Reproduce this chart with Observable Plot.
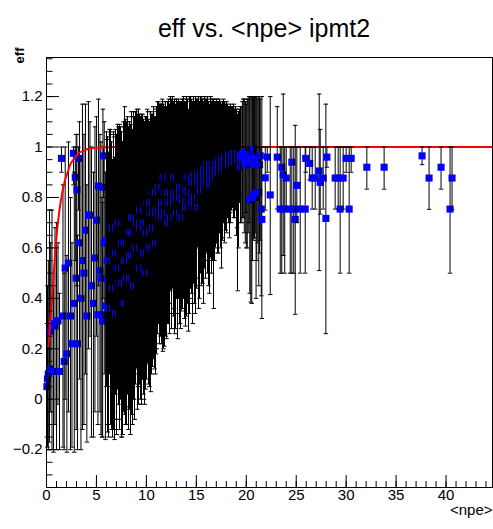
<!DOCTYPE html>
<html><head><meta charset="utf-8">
<script src="https://cdn.jsdelivr.net/npm/d3@7"></script>
<script src="https://cdn.jsdelivr.net/npm/@observablehq/plot@0.6"></script>
<style>body{margin:0;background:#fff} svg{display:block}</style>
</head><body><div id="chart"></div>
<script>
const titleText = "eff vs. <npe> ipmt2";
const xTitle = "<npe>";
const yTitle = "eff";

// first set of points
const npe = [
  0.04,0.10,0.18,0.30,0.42,0.55,0.70,0.85,1.00,1.15,
  1.30,1.50,1.65,1.77,1.87,2.04,2.20,2.40,2.55,2.70,
  2.78,2.88,2.97,3.04,3.10,3.20,3.30,3.45,3.60,3.75,
  3.90,4.04,4.20,4.35,4.50,4.70,4.85,5.00,5.15,5.20,
  5.35,5.45,5.55,5.62,5.70,5.65,5.78,5.90,6.00,
  6.15,6.30,6.45,6.60,6.75,6.90,7.05,7.20,7.35,7.50,
  7.55,7.70,7.85,7.95,8.05,8.20,8.40,8.55,8.70,8.85,
  9.05,9.15,9.25,9.40,9.55,9.70,9.85,10.00,10.15,10.30,
  10.45,10.60,10.75,10.90,
  11.05,11.20,11.35,11.50,11.65,11.80,11.95,12.10,12.25,12.40,
  12.55,12.70,12.85,13.00,13.15,13.30,13.45,13.60,13.75,13.90,
  14.05,14.20,14.35,14.50,14.65,14.80,14.95,
  15.10,15.25,15.40,15.55,15.70,15.85,16.00,16.15,16.30,16.45,
  16.60,16.75,16.90,17.05,17.20,17.35,17.50,17.65,17.80,17.95,
  18.10,18.25,18.40,18.55,18.70,18.85,19.00,19.15,19.30,
  19.55,19.70,19.90,20.00,20.20,20.35,20.45,20.55,20.70,20.75,
  20.90,21.05,21.40,21.50,21.56,
  21.9,22.1,22.4,23.1,23.4,23.55,23.7,23.85,24.0,24.4,
  24.56,24.9,24.75,25.06,25.4,25.9,25.95,26.35,26.6,26.9,
  27.3,27.4,27.7,27.97,28.07,28.9,29.2,29.4,29.7,30.0,
  30.3,30.5,32.07,33.8,37.6,38.3,39.5,40.4,40.6
];
const eff = [
  0.05,0.08,0.10,0.12,0.27,0.30,0.11,0.29,0.31,0.31,
  0.11,0.955,0.33,0.15,0.52,0.18,0.54,0.33,0.22,0.975,
  0.38,0.88,0.48,0.83,0.22,0.955,0.62,0.40,0.55,0.50,
  0.67,0.33,0.73,0.73,0.45,0.38,0.56,0.71,0.335,0.845,
  0.51,0.48,0.335,0.31,0.965,0.84,0.62,0.37,0.63,
  0.47,0.72,0.49,0.31,0.40,0.65,0.45,0.585,0.53,0.415,
  0.335,0.62,0.68,0.59,0.50,0.44,0.38,0.575,0.66,0.50,
  0.82,0.62,0.535,0.64,0.775,0.625,0.55,0.72,0.825,0.64,
  0.55,0.72,0.77,0.68,
  0.80,0.905,0.86,0.80,0.77,0.69,0.66,0.735,0.815,0.86,
  0.77,0.835,0.77,0.86,0.76,0.825,0.78,0.86,0.905,0.80,
  0.835,0.69,0.85,0.86,0.74,0.835,0.875,
  0.94,0.80,0.905,0.875,0.84,0.905,0.92,0.89,0.86,0.93,
  0.92,0.78,0.925,0.935,0.93,0.945,0.89,0.945,0.96,0.955,
  0.965,0.96,0.97,0.97,0.98,0.95,0.935,0.81,0.97,
  0.965,0.975,0.93,0.93,0.96,0.79,0.95,0.80,0.99,0.81,
  0.93,0.82,0.965,0.754,0.713,
  0.878,0.96,0.81,0.96,0.754,0.92,0.89,0.754,0.877,0.754,
  0.94,0.713,0.754,0.848,0.754,0.754,0.955,0.935,0.877,0.877,
  0.905,0.86,0.877,0.717,0.96,0.877,0.877,0.754,0.877,0.955,
  0.754,0.955,0.92,0.92,0.965,0.877,0.92,0.754,0.877
];
const effLow = [
  -0.15,-0.19,-0.20,-0.17,-0.05,-0.20,-0.21,-0.10,-0.20,-0.02,
  -0.20,0.90,-0.19,-0.20,0.00,-0.21,-0.05,-0.20,-0.19,0.85,
  -0.21,0.55,-0.12,0.45,-0.20,0.75,0.08,-0.20,-0.12,-0.10,
  0.10,-0.17,0.20,0.25,-0.15,-0.15,-0.05,0.25,-0.10,0.45,
  -0.05,-0.14,-0.15,-0.15,0.80,0.40,0.10,-0.16,0.05,
  -0.13,0.10,-0.10,-0.15,-0.12,0.02,-0.14,-0.02,-0.08,-0.15,
  -0.15,-0.05,0.00,-0.03,-0.10,-0.12,-0.14,-0.06,0.00,-0.08,
  0.12,0.05,-0.02,0.00,0.08,0.02,-0.02,0.08,0.14,0.05,
  0.03,0.13,0.16,0.10,
  0.20,0.30,0.26,0.22,0.19,0.21,0.25,0.30,0.38,0.43,
  0.28,0.33,0.26,0.40,0.24,0.30,0.28,0.36,0.45,0.29,
  0.33,0.27,0.40,0.42,0.30,0.38,0.45,
  0.60,0.36,0.50,0.45,0.38,0.55,0.58,0.50,0.42,0.60,
  0.55,0.36,0.60,0.62,0.58,0.66,0.52,0.64,0.70,0.67,
  0.72,0.70,0.74,0.75,0.77,0.72,0.65,0.43,0.78,
  0.70,0.72,0.62,0.60,0.66,0.42,0.385,0.38,0.64,0.63,
  0.66,0.55,0.63,0.41,0.32,
  0.75,0.90,0.415,0.754,0.50,0.50,0.57,0.50,0.754,0.50,
  0.50,0.337,0.50,0.70,0.50,0.50,0.90,0.87,0.754,0.754,
  0.51,0.734,0.754,0.26,0.92,0.754,0.754,0.50,0.754,0.90,
  0.50,0.90,0.833,0.833,0.93,0.753,0.833,0.50,0.753
];
const effHigh = [
  0.30,0.45,0.55,0.75,0.62,0.75,0.45,0.68,0.70,0.62,
  0.42,1.00,0.85,0.50,1.00,0.57,1.02,0.80,0.62,1.00,
  0.90,1.00,1.05,1.05,0.65,1.00,1.10,0.95,1.17,1.05,
  1.17,0.85,1.18,1.10,1.00,0.90,1.08,1.12,0.85,1.19,
  1.05,1.02,0.80,0.78,1.00,1.15,1.10,0.90,1.06,
  1.04,1.07,1.05,0.95,1.04,1.07,1.05,1.08,1.09,1.06,
  0.98,1.10,1.16,1.11,1.10,1.08,1.09,1.12,1.14,1.12,
  1.15,1.13,1.12,1.12,1.13,1.11,1.10,1.12,1.14,1.10,
  1.09,1.13,1.14,1.12,
  1.16,1.18,1.17,1.17,1.18,1.16,1.15,1.18,1.19,1.20,
  1.17,1.18,1.16,1.19,1.17,1.18,1.18,1.19,1.20,1.18,
  1.19,1.15,1.20,1.19,1.17,1.18,1.20,
  1.19,1.18,1.20,1.19,1.18,1.20,1.19,1.18,1.17,1.20,
  1.19,1.15,1.18,1.19,1.18,1.18,1.17,1.17,1.18,1.17,
  1.16,1.16,1.15,1.16,1.15,1.15,1.14,1.13,1.15,
  1.16,1.19,1.18,1.17,1.19,1.20,1.20,1.20,1.19,1.20,
  1.20,1.20,1.19,1.00,1.20,
  1.00,1.00,1.20,1.16,1.00,1.00,1.21,1.00,1.00,1.00,
  1.00,1.086,1.00,1.00,1.00,1.00,1.00,1.00,1.00,1.00,
  1.21,1.07,1.00,1.17,1.00,1.00,1.00,1.00,1.00,1.00,
  1.00,1.00,1.00,1.00,1.00,1.00,1.00,1.00,1.00
];

// second set of points in the dense region
const npe2 = [
  6.07,6.22,6.37,6.52,6.67,6.82,6.97,7.12,7.27,7.42,
  7.62,7.77,7.90,8.12,8.27,8.47,8.62,8.77,8.95,9.10,
  9.20,9.32,9.47,9.62,9.77,9.92,10.07,10.22,10.37,10.52,
  10.67,10.82,10.97,11.12,11.27,11.42,11.57,11.72,11.87,12.02,
  12.17,12.32,12.47,12.62,12.77,12.92,13.07,13.22,13.37,13.52,
  13.67,13.82,13.97,14.12,14.27,14.42,14.57,14.72,14.87,15.02,
  15.17,15.32,15.47,15.62,15.77,15.92,16.07,16.22,16.37,16.52,
  16.67,16.82,16.97,17.12,17.27,17.42,17.57,17.72,17.87,18.02,
  18.17,18.32,18.47,18.62,18.77,18.92,19.07,19.22,19.40,19.62,
  19.80,19.95,20.10,20.28,20.62,20.82,20.98,21.15,21.25,21.33
];
const eff2 = [
  0.55,0.36,0.68,0.44,0.58,0.34,0.52,0.70,0.46,0.62,
  0.38,0.55,0.48,0.66,0.57,0.72,0.45,0.60,0.70,0.52,
  0.75,0.68,0.58,0.70,0.50,0.66,0.78,0.60,0.74,0.68,
  0.82,0.62,0.75,0.84,0.72,0.78,0.88,0.74,0.82,0.70,
  0.78,0.72,0.80,0.88,0.82,0.74,0.80,0.84,0.72,0.79,
  0.83,0.76,0.88,0.82,0.78,0.86,0.80,0.89,0.76,0.86,
  0.88,0.83,0.91,0.86,0.90,0.87,0.93,0.85,0.91,0.88,
  0.93,0.90,0.94,0.91,0.95,0.92,0.94,0.96,0.93,0.95,
  0.97,0.94,0.96,0.975,0.96,0.97,0.95,0.92,0.96,0.97,
  0.95,0.98,0.94,0.97,0.93,0.96,0.80,0.95,0.82,0.93
];
const effLow2 = [
  -0.10,-0.15,0.05,-0.12,-0.05,-0.16,-0.08,0.04,-0.12,0.00,
  -0.14,-0.06,-0.10,0.02,-0.04,0.08,-0.10,0.00,0.06,-0.04,
  0.10,0.06,-0.02,0.08,0.00,0.04,0.15,0.06,0.12,0.10,
  0.20,0.12,0.18,0.26,0.22,0.25,0.34,0.20,0.30,0.24,
  0.30,0.26,0.34,0.44,0.36,0.28,0.34,0.40,0.30,0.35,
  0.40,0.32,0.46,0.38,0.34,0.44,0.38,0.46,0.34,0.44,
  0.48,0.40,0.55,0.46,0.52,0.48,0.60,0.45,0.56,0.50,
  0.60,0.55,0.62,0.58,0.66,0.60,0.63,0.70,0.62,0.66,
  0.72,0.64,0.70,0.76,0.72,0.75,0.68,0.60,0.70,0.72,
  0.66,0.74,0.60,0.70,0.55,0.64,0.40,0.62,0.45,0.58
];
const effHigh2 = [
  1.03,0.98,1.07,1.02,1.06,0.96,1.05,1.09,1.04,1.08,
  1.02,1.08,1.06,1.12,1.10,1.14,1.07,1.12,1.14,1.10,
  1.15,1.13,1.11,1.13,1.09,1.12,1.15,1.11,1.14,1.13,
  1.16,1.12,1.15,1.18,1.16,1.17,1.19,1.17,1.18,1.16,
  1.18,1.17,1.19,1.20,1.19,1.17,1.18,1.19,1.17,1.18,
  1.19,1.18,1.20,1.19,1.18,1.20,1.18,1.20,1.17,1.19,
  1.20,1.18,1.20,1.19,1.20,1.19,1.20,1.18,1.19,1.18,
  1.19,1.18,1.19,1.18,1.19,1.18,1.18,1.19,1.17,1.18,
  1.17,1.16,1.17,1.16,1.17,1.16,1.15,1.14,1.16,1.18,
  1.19,1.18,1.19,1.20,1.20,1.20,1.20,1.19,1.20,1.20
];

// fitted curve
const fitNpe = [0.2,0.37,0.54,0.7,0.87,1.04,1.2,1.37,1.54,1.87,2.04,2.37,2.7,3.2,3.7,4.4,5.3,6.5,8,10,15,20,30,44.65];
const fitEff = [0.21,0.31,0.39,0.49,0.58,0.66,0.72,0.77,0.81,0.87,0.89,0.93,0.95,0.975,0.985,0.995,0.998,1,1,1,1,1,1,1];

const xMajorTicks = [0,5,10,15,20,25,30,35,40];
const xMinorTicks = d3.range(0, 45, 1);
const yMajorTicks = [-0.2,0,0.2,0.4,0.6,0.8,1,1.2];
const yMinorTicks = d3.range(-7, 28).map(k => k * 0.05);

const W = 493, H = 529;
const mL = 46, mR = 1, mT = 57, mB = 42;
const innerW = W - mL - mR, innerH = H - mT - mB;

const toPoints = (xs, ys, los, his, set) => xs.map((x, i) => ({x, y: ys[i], lo: los[i], hi: his[i], set}));
const allPoints = toPoints(npe, eff, effLow, effHigh, 1)
  .concat(toPoints(npe2, eff2, effLow2, effHigh2, 2))
  .sort((a, b) => a.x - b.x);
const inDense = p => p.x >= 6 && p.x < 19.5;
const lowPts = allPoints.filter(p => p.x < 6);
const dense1 = allPoints.filter(p => inDense(p) && p.set === 1);
const dense2 = allPoints.filter(p => inDense(p) && p.set === 2);
const highPts = allPoints.filter(p => p.x >= 19.5);
const fit = fitNpe.map((x, i) => ({x, y: fitEff[i]}));

const capSymbol = {
  draw(ctx, size) {
    const w = Math.sqrt(size);
    ctx.moveTo(-w / 2, 0);
    ctx.lineTo(w / 2, 0);
  }
};

const barMarks = (pts, crisp) => {
  const extra = crisp ? {shapeRendering: "crispEdges"} : {};
  return [
    Plot.ruleX(pts, {x: "x", y1: "lo", y2: "hi", stroke: "black", strokeWidth: 1, ...extra}),
    Plot.dot(pts, {x: "x", y: "lo", symbol: capSymbol, r: 2.5, stroke: "black", strokeWidth: 1, fill: "none"}),
    Plot.dot(pts, {x: "x", y: "hi", symbol: capSymbol, r: 2.5, stroke: "black", strokeWidth: 1, fill: "none"})
  ];
};
const markerMark = pts => Plot.dot(pts, {x: "x", y: "y", symbol: "square", r: 4, fill: "#0000ff", stroke: "none"});
const interleaved = pts => pts.flatMap(p => [...barMarks([p], false), markerMark([p])]);

const fmt = d => (d < 0 ? "\u2212" : "") + String(Math.abs(d));

const chart = Plot.plot({
  width: W, height: H,
  marginLeft: mL, marginRight: mR, marginTop: mT, marginBottom: mB,
  style: {fontFamily: "'Liberation Sans', Arial, Helvetica, sans-serif", fontSize: "15px", background: "white", color: "black"},
  x: {domain: [0, 44.65], axis: null},
  y: {domain: [-0.35, 1.355], axis: null},
  marks: [
    ...interleaved(lowPts),
    markerMark(dense1),
    Plot.line(fit, {x: "x", y: "y", stroke: "#ff0000", strokeWidth: 2, curve: "monotone-x"}),
    ...barMarks(dense1, true),
    markerMark(dense2),
    ...barMarks(dense2, true),
    ...interleaved(highPts),
    Plot.tickX(xMinorTicks, {x: d => d, insetTop: innerH - 6, stroke: "black"}),
    Plot.tickX(xMajorTicks, {x: d => d, insetTop: innerH - 12, stroke: "black"}),
    Plot.tickY(yMinorTicks, {y: d => d, insetRight: innerW - 6.5, stroke: "black"}),
    Plot.tickY(yMajorTicks, {y: d => d, insetRight: innerW - 13, stroke: "black"}),
    Plot.frame({stroke: "black", strokeWidth: 1}),
    Plot.text(xMajorTicks, {x: d => d, text: fmt, frameAnchor: "bottom", dy: 12, fontSize: 15, fill: "black"}),
    Plot.text(yMajorTicks, {y: d => d, text: fmt, frameAnchor: "left", textAnchor: "end", dx: -4, fontSize: 15, fill: "black"}),
    Plot.text([titleText], {text: d => d, frameAnchor: "top", dx: -5.5, dy: -38, fontSize: 25, fill: "black"}),
    Plot.text([yTitle], {text: d => d, frameAnchor: "top-left", rotate: -90, textAnchor: "end", dx: -32, dy: -10, fontSize: 13, fontWeight: "bold", fill: "black"}),
    Plot.text([xTitle], {text: d => d, frameAnchor: "bottom-right", textAnchor: "end", dy: 27, fontSize: 15, fill: "black"})
  ]
});
document.getElementById("chart").appendChild(chart);
</script>
</body></html>
